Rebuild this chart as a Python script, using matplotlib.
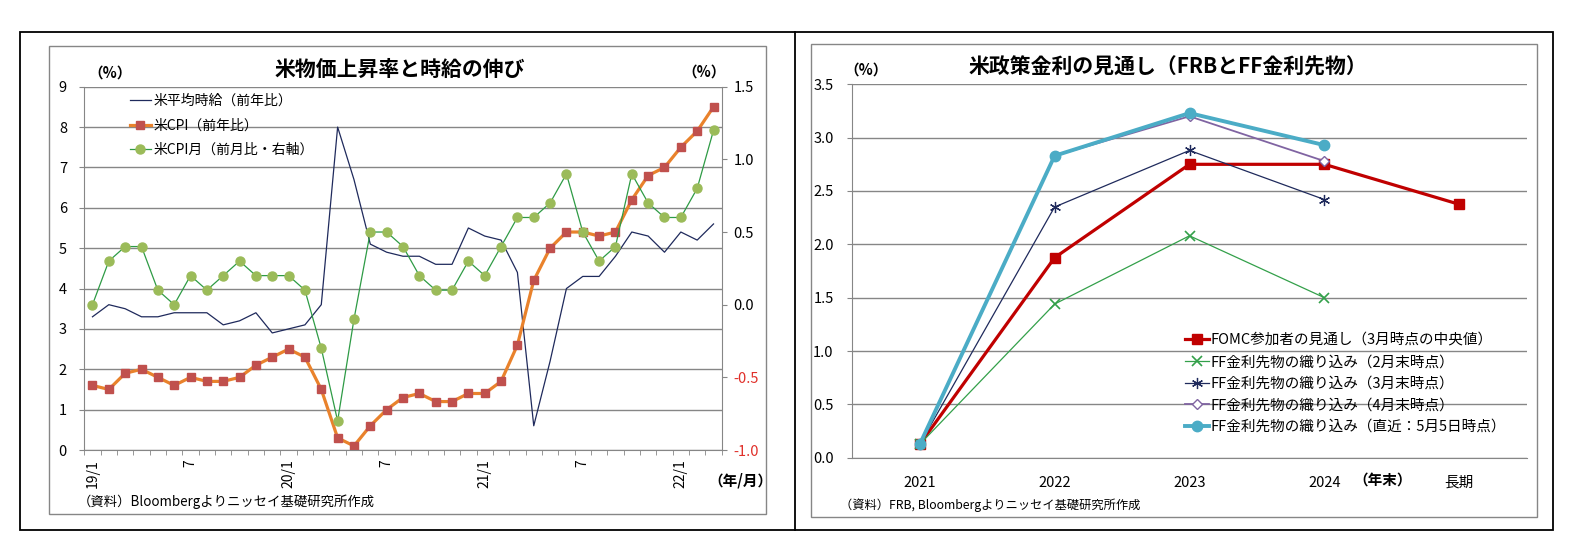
import numpy as np
import matplotlib
matplotlib.use('Agg')
import matplotlib.pyplot as plt
from matplotlib.lines import Line2D
from matplotlib.patches import Rectangle
from matplotlib.ticker import FixedLocator, FuncFormatter

plt.rcParams['font.family'] = ['Noto Sans CJK JP', 'DejaVu Sans']

W, H = 1571, 557

# ------------------------------------------------------------------
# data: left chart (monthly, 19/1 .. 22/3)
# ------------------------------------------------------------------
wage_yoy = [3.3, 3.6, 3.5, 3.3, 3.3, 3.4, 3.4, 3.4, 3.1, 3.2, 3.4, 2.9,
            3.0, 3.1, 3.6, 8.0, 6.7, 5.1, 4.9, 4.8, 4.8, 4.6, 4.6, 5.5,
            5.3, 5.2, 4.4, 0.6, 2.2, 4.0, 4.3, 4.3, 4.8, 5.4, 5.3, 4.9,
            5.4, 5.2, 5.6]
cpi_yoy = [1.6, 1.5, 1.9, 2.0, 1.8, 1.6, 1.8, 1.7, 1.7, 1.8, 2.1, 2.3,
           2.5, 2.3, 1.5, 0.3, 0.1, 0.6, 1.0, 1.3, 1.4, 1.2, 1.2, 1.4,
           1.4, 1.7, 2.6, 4.2, 5.0, 5.4, 5.4, 5.3, 5.4, 6.2, 6.8, 7.0,
           7.5, 7.9, 8.5]
cpi_mom = [0.0, 0.3, 0.4, 0.4, 0.1, 0.0, 0.2, 0.1, 0.2, 0.3, 0.2, 0.2,
           0.2, 0.1, -0.3, -0.8, -0.1, 0.5, 0.5, 0.4, 0.2, 0.1, 0.1, 0.3,
           0.2, 0.4, 0.6, 0.6, 0.7, 0.9, 0.5, 0.3, 0.4, 0.9, 0.7, 0.6,
           0.6, 0.8, 1.2]
month_labels = ['19/1', '', '', '', '', '', '7', '', '', '', '', '',
                '20/1', '', '', '', '', '', '7', '', '', '', '', '',
                '21/1', '', '', '', '', '', '7', '', '', '', '', '',
                '22/1', '', '']

# ------------------------------------------------------------------
# data: right chart (policy rate outlook)
# ------------------------------------------------------------------
periods   = ['2021', '2022', '2023', '2024', '長期']
fomc      = [0.125, 1.875, 2.75, 2.75, 2.375]
ff_feb    = [0.125, 1.44, 2.08, 1.50]
ff_mar    = [0.125, 2.35, 2.88, 2.42]
ff_apr    = [0.125, 2.83, 3.20, 2.78]
ff_latest = [0.125, 2.83, 3.23, 2.93]

GRID = '#868686'
NAVY = '#1F2A5C'


def fx(x):
    return x / W


def fy(y):
    return 1 - y / H


def add_ax(x0, y0, x1, y1):
    return fig.add_axes([fx(x0), fy(y1), fx(x1 - x0), (y1 - y0) / H])


fig = plt.figure(figsize=(W / 100, H / 100), dpi=100)

# frames
fig.add_artist(Rectangle((fx(20), fy(530)), fx(1533), (530 - 31.5) / H,
                         transform=fig.transFigure, fill=False, ec='black', lw=1.3))
fig.add_artist(Line2D([fx(794.5)] * 2, [fy(31.5), fy(530)],
                      transform=fig.transFigure, color='black', lw=1.3))
fig.add_artist(Rectangle((fx(48.5), fy(514)), fx(717), (514 - 46) / H,
                         transform=fig.transFigure, fill=False, ec=GRID, lw=1))
fig.add_artist(Rectangle((fx(810.5), fy(517)), fx(726), (517 - 43.5) / H,
                         transform=fig.transFigure, fill=False, ec=GRID, lw=1))

# ------------------------------------------------------------------
# left chart
# ------------------------------------------------------------------
ax = add_ax(84.3, 86.7, 721.7, 450)
x = np.arange(len(cpi_yoy))
ax.set_xlim(-0.5, len(x) - 0.5)
ax.set_ylim(0, 9)
ax.set_yticks(range(10))
ax.yaxis.grid(True, color=GRID, lw=1)
ax.set_axisbelow(True)
for s in ['top', 'right']:
    ax.spines[s].set_visible(False)
for s in ['left', 'bottom']:
    ax.spines[s].set_color(GRID)
ax.tick_params(axis='y', length=3.5, color=GRID, pad=9, labelsize=10.5)
ax.xaxis.set_major_locator(FixedLocator(x))
ax.set_xticklabels(month_labels, rotation=90, fontsize=10)
ax.tick_params(axis='x', length=0, pad=7)
ax.xaxis.set_minor_locator(FixedLocator(np.arange(-0.5, len(x), 1)))
ax.tick_params(axis='x', which='minor', length=3.5, color=GRID)

l1, = ax.plot(x, wage_yoy, color=NAVY, lw=0.9, label='米平均時給（前年比）')
l2, = ax.plot(x, cpi_yoy, color='#E9822C', lw=2.3, marker='s', ms=5.5,
              mfc='#C0504D', mec='#C0504D', label='米CPI（前年比）')

ax2 = ax.twinx()
ax2.set_ylim(-1.0, 1.5)
ax2.set_yticks(np.arange(-1.0, 1.51, 0.5))
ax2.yaxis.set_major_formatter(FuncFormatter(lambda v, p: f'{v:.1f}'))
for s in ['top', 'left', 'bottom']:
    ax2.spines[s].set_visible(False)
ax2.spines['right'].set_color(GRID)
ax2.tick_params(axis='y', length=3.5, color=GRID, pad=5, labelsize=10.5)
for t in ax2.get_yticklabels():
    if t.get_text().startswith('-'):
        t.set_color('#E0302A')
l3, = ax2.plot(x, cpi_mom, color='#2E9B45', lw=0.9, marker='o', ms=6.5,
               mfc='#9BBB59', mec='#9BBB59', label='米CPI月（前月比・右軸）')

ax2.legend(handles=[l1, l2, l3], loc='upper left', bbox_to_anchor=(0.063, 0.995),
           frameon=False, fontsize=10, handlelength=1.5, handletextpad=0.2,
           labelspacing=0.75, numpoints=1, borderaxespad=0)

fig.text(fx(400), fy(69), '米物価上昇率と時給の伸び', fontsize=15, fontweight='bold',
         ha='center', va='center')
fig.text(fx(110), fy(73), '（%）', fontsize=10.5, fontweight='bold', ha='center', va='center')
fig.text(fx(704), fy(72), '（%）', fontsize=10.5, fontweight='bold', ha='center', va='center')
fig.text(fx(740), fy(480), '（年/月）', fontsize=10.5, fontweight='bold', ha='center', va='center')
fig.text(fx(78), fy(502), '（資料）Bloombergよりニッセイ基礎研究所作成', fontsize=9.6,
         ha='left', va='center')

# ------------------------------------------------------------------
# right chart
# ------------------------------------------------------------------
bx = add_ax(852.3, 84.3, 1526.7, 457.7)
px = np.arange(len(periods))
bx.set_xlim(-0.5, len(periods) - 0.5)
bx.set_ylim(0, 3.5)
bx.set_yticks(np.arange(0, 3.51, 0.5))
bx.yaxis.set_major_formatter(FuncFormatter(lambda v, p: f'{v:.1f}'))
bx.yaxis.grid(True, color=GRID, lw=1)
bx.set_axisbelow(True)
for s in ['top', 'right']:
    bx.spines[s].set_visible(False)
for s in ['left', 'bottom']:
    bx.spines[s].set_color(GRID)
bx.set_xticks(px)
bx.set_xticklabels(periods)
bx.tick_params(axis='x', length=0, pad=13, labelsize=10.5)
bx.tick_params(axis='y', length=3.5, color=GRID, pad=10, labelsize=10.5)

h1, = bx.plot(px, fomc, color='#C00000', lw=2.3, marker='s', ms=7.5,
              label='FOMC参加者の見通し（3月時点の中央値）')
h2, = bx.plot(px[:4], ff_feb, color='#33A04A', lw=0.9, marker='x', ms=7, mew=1.2,
              label='FF金利先物の織り込み（2月末時点）')
h3, = bx.plot(px[:4], ff_mar, color=NAVY, lw=0.9, marker=(6, 2, 0), ms=8, mew=0.9,
              label='FF金利先物の織り込み（3月末時点）')
h4, = bx.plot(px[:4], ff_apr, color='#8064A2', lw=1.3, marker='D', ms=5,
              mfc='white', mec='#8064A2', label='FF金利先物の織り込み（4月末時点）')
h5, = bx.plot(px[:4], ff_latest, color='#4BACC6', lw=2.8, marker='o', ms=7.5,
              label='FF金利先物の織り込み（直近：5月5日時点）')

bx.legend(handles=[h1, h2, h3, h4, h5], loc='upper left', bbox_to_anchor=(0.485, 0.348),
          frameon=False, fontsize=10.5, handlelength=1.6, handletextpad=0.15,
          labelspacing=0.52, numpoints=1, borderaxespad=0)

fig.text(fx(1168), fy(67), '米政策金利の見通し（FRBとFF金利先物）', fontsize=15,
         fontweight='bold', ha='center', va='center')
fig.text(fx(866), fy(70), '（%）', fontsize=10.5, fontweight='bold', ha='center', va='center')
fig.text(fx(1383), fy(480), '（年末）', fontsize=10.5, fontweight='bold', ha='center', va='center')
fig.text(fx(840), fy(505), '（資料）FRB, Bloombergよりニッセイ基礎研究所作成', fontsize=8.8,
         ha='left', va='center')

fig.savefig('out.png', dpi=100)
